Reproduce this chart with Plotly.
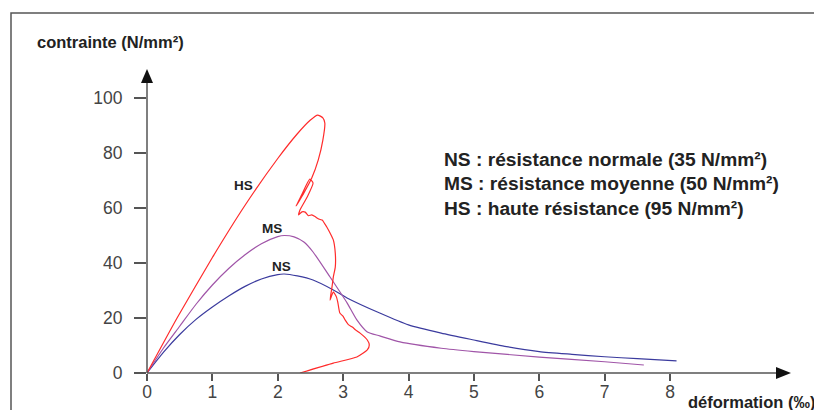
import plotly.graph_objects as go

# --- data ---
ns_x = [0, 0.25, 0.5, 0.75, 1.0, 1.25, 1.5, 1.75, 2.0, 2.1, 2.3, 2.54, 2.85, 3.06, 3.56, 4.0, 4.5, 5.0, 5.5, 6.0, 6.5, 7.0, 7.5, 8.1]
ns_y = [0, 7.5, 14, 19.5, 24, 28, 31.5, 34.2, 35.8, 36.0, 35.3, 33.8, 30.2, 27.3, 21.8, 17.5, 14.5, 12.0, 9.6, 7.8, 6.8, 5.9, 5.2, 4.4]

ms_x = [0, 0.25, 0.5, 0.75, 1.0, 1.25, 1.5, 1.75, 2.0, 2.1, 2.25, 2.4, 2.54, 2.8, 3.06, 3.21, 3.37, 3.56, 3.87, 4.5, 5.0, 6.0, 7.0, 7.6]
ms_y = [0, 9, 17, 25, 32, 38, 43, 47, 49.6, 50.0, 49.5, 47.6, 44.0, 34.9, 25.5, 19.3, 14.9, 13.5, 11.3, 9.0, 7.8, 5.8, 4.1, 2.9]

hs_x = [0, 0.46, 1.0, 1.5, 2.0, 2.3, 2.5, 2.61, 2.69, 2.72, 2.69, 2.62, 2.52, 2.40, 2.28, 2.36, 2.49, 2.54, 2.45,
        2.34, 2.32, 2.37, 2.42, 2.47, 2.52, 2.57, 2.60, 2.65, 2.68, 2.72, 2.75, 2.80, 2.85, 2.88, 2.88, 2.85, 2.83,
        2.80, 2.85, 2.90, 2.92, 2.95, 3.00, 3.03, 3.08, 3.14, 3.20, 3.26, 3.37, 3.40, 3.37, 3.21, 2.85, 2.34]
hs_y = [0, 20, 42, 61, 78, 87, 92, 93.8, 92.8, 90.9, 84.7, 77.5, 70.9, 65.5, 60.7, 64.5, 70.5, 69.1, 64.0,
        59.3, 57.5, 58.6, 58.5, 57.2, 57.5, 56.9, 56.4, 55.8, 55.6, 54.2, 53.1, 50.9, 48.4, 43.6, 38.5, 34.9, 31.3,
        26.5, 29.5, 27.5, 25.5, 21.8, 20.6, 19.3, 17.6, 16.7, 15.5, 14.5, 12.0, 10.2, 8.4, 5.8, 3.6, 0]

x_ticks = [0, 1, 2, 3, 4, 5, 6, 7, 8]
y_ticks = [0, 20, 40, 60, 80, 100]

legend_lines = [
    "NS : résistance normale (35 N/mm²)",
    "MS : résistance moyenne (50 N/mm²)",
    "HS : haute résistance (95 N/mm²)",
]

# --- layout geometry (pixels) ---
W, H = 814, 410
L, R, T, B = 147, 26, 70, 37
pw, ph = W - L - R, H - T - B

def px(xp):
    return (xp - L) / pw

def py(yp):
    return (H - B - yp) / ph

x_max = pw / 65.375
y_max = ph / 2.75

fig = go.Figure()
fig.add_trace(go.Scatter(x=ns_x, y=ns_y, mode="lines", line=dict(color="#3b3b9e", width=1.2, shape="spline", smoothing=0.6),
                         name="NS", cliponaxis=False))
fig.add_trace(go.Scatter(x=ms_x, y=ms_y, mode="lines", line=dict(color="#a055a8", width=1.2, shape="spline", smoothing=0.6),
                         name="MS", cliponaxis=False))
fig.add_trace(go.Scatter(x=hs_x, y=hs_y, mode="lines", line=dict(color="#ff2b2b", width=1.2, shape="spline", smoothing=0.5),
                         name="HS", cliponaxis=False))

axis_color = "#555555"
tick_font = dict(family="Liberation Sans, Arial, sans-serif", size=17.5, color="#444444")

fig.update_layout(
    width=W, height=H,
    margin=dict(l=L, r=R, t=T, b=B, pad=0, autoexpand=False),
    paper_bgcolor="white", plot_bgcolor="white",
    showlegend=False,
    xaxis=dict(range=[0, x_max], tickvals=x_ticks, ticktext=[str(v) for v in x_ticks],
               showgrid=False, zeroline=False, showline=False, automargin=False,
               ticks="outside", ticklen=7, tickwidth=1.5, tickcolor=axis_color,
               tickfont=tick_font, ticklabelstandoff=-4),
    yaxis=dict(range=[0, y_max], tickvals=y_ticks, ticktext=[str(v) for v in y_ticks],
               showgrid=False, zeroline=False, showline=False, automargin=False,
               ticks="outside", ticklen=12, tickwidth=1.5, tickcolor=axis_color,
               tickfont=tick_font, ticklabelstandoff=8),
)

shapes = []
# frame around the figure (extends past right/bottom edges)
shapes.append(dict(type="rect", xref="paper", yref="paper",
                   x0=px(11), x1=px(W + 20), y0=py(H + 20), y1=py(13),
                   line=dict(color="#555555", width=1.5), fillcolor="rgba(0,0,0,0)", layer="below"))
# axis lines
shapes.append(dict(type="line", xref="paper", yref="paper", x0=0, x1=px(778), y0=0, y1=0,
                   line=dict(color=axis_color, width=1.5)))
shapes.append(dict(type="line", xref="paper", yref="paper", x0=0, x1=0, y0=0, y1=py(80),
                   line=dict(color=axis_color, width=1.5)))
# arrow heads
shapes.append(dict(type="path", xref="paper", yref="paper",
                   path=f"M {px(141)} {py(83)} L {px(153)} {py(83)} L {px(147)} {py(69)} Z",
                   fillcolor="#111111", line=dict(color="#111111", width=0)))
shapes.append(dict(type="path", xref="paper", yref="paper",
                   path=f"M {px(776)} {py(367)} L {px(776)} {py(379)} L {px(791)} {py(373)} Z",
                   fillcolor="#111111", line=dict(color="#111111", width=0)))
fig.update_layout(shapes=shapes)

bold_font = "Liberation Sans, Arial, sans-serif"
ann = []
ann.append(dict(xref="paper", yref="paper", x=px(35), y=py(42), xanchor="left", yanchor="middle",
                text="<b>contrainte (N/mm²)</b>", showarrow=False,
                font=dict(family=bold_font, size=16.5, color="#222222")))
ann.append(dict(xref="paper", yref="paper", x=px(686), y=py(402), xanchor="left", yanchor="middle",
                text="<b>déformation (‰)</b>", showarrow=False,
                font=dict(family=bold_font, size=16.5, color="#222222")))
for i, line in enumerate(legend_lines):
    ann.append(dict(xref="paper", yref="paper", x=px(442), y=py(159 + 24.5 * i), xanchor="left", yanchor="middle",
                    text=f"<b>{line}</b>", showarrow=False,
                    font=dict(family=bold_font, size=19.2, color="#222222")))
for lab, (xx, yy) in zip(["HS", "MS", "NS"], [(243, 185), (272, 228), (281, 266)]):
    ann.append(dict(xref="paper", yref="paper", x=px(xx), y=py(yy), xanchor="center", yanchor="middle",
                    text=f"<b>{lab}</b>", showarrow=False,
                    font=dict(family=bold_font, size=13.5, color="#222222")))
fig.update_layout(annotations=ann)

fig.write_html("out.html", config={"displayModeBar": False},
               post_script="document.body.style.margin='0';document.body.style.overflow='hidden';")
